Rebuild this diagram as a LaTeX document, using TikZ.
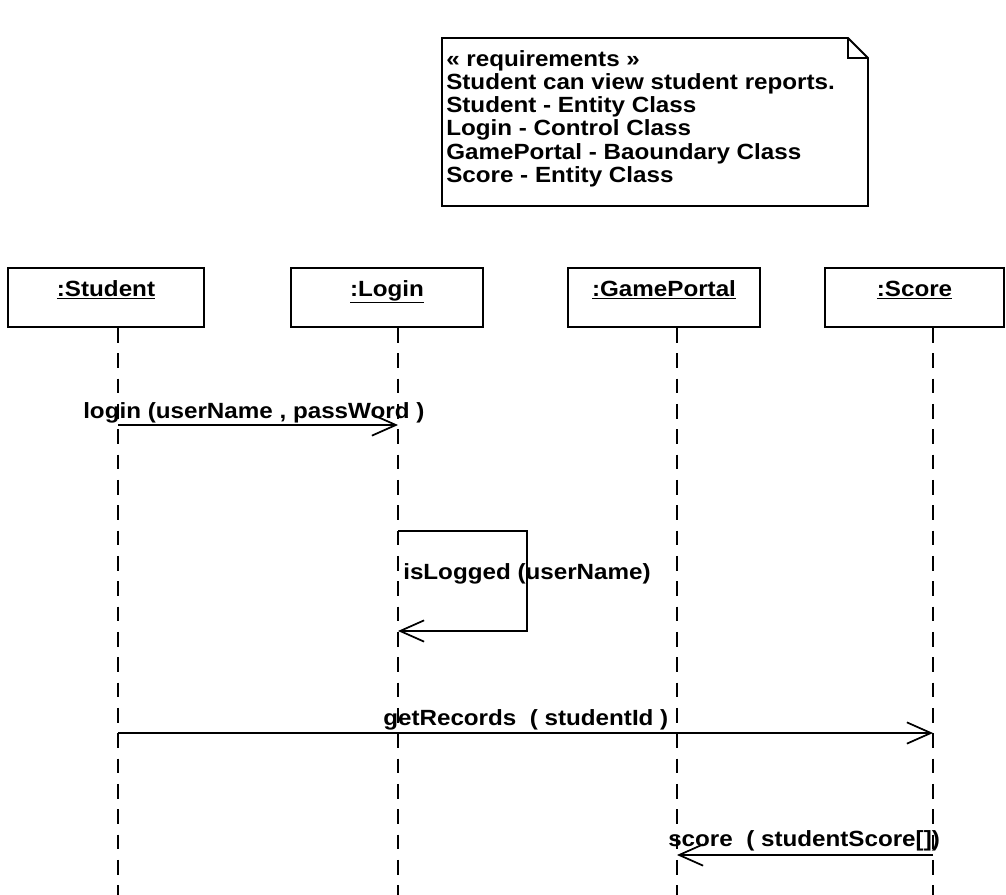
\documentclass[tikz,border=0pt]{standalone}
\usepackage{fontspec}
\setmainfont{Liberation Sans}[FakeStretch=1.1]
\usetikzlibrary{arrows.meta}

\begin{document}
\begin{tikzpicture}[x=0.75pt, y=-0.75pt,
		txt/.style = {font=\bfseries\fontsize{16.5}{17.4}\selectfont},
		obj/.style = {draw, txt, line width=1.4pt, inner sep=0pt, text height=21pt, text depth=23.25pt},
		lifeline/.style = {line width=1.6pt, dash pattern=on 11pt off 8pt},
		msg/.style = {line width=1.3pt, -{Straight Barb[length=18pt, width=16pt, line width=1.3pt]}},
		lbl/.style = {txt, inner sep=0pt, anchor=base west}]
			\useasboundingbox (0,0) rectangle (1006,895);
			\coordinate (nw) at (442,38);
			\coordinate (ne) at (848,38);
			\coordinate (fold) at (868,58);
			\coordinate (se) at (868,206);
			\draw[line width=1.4pt] (nw) -- (ne) -- (fold) -- (se) -- (nw |- se) -- cycle;
			\draw[line width=1.4pt] (ne) -- (ne |- fold) -- (fold);
			\node[txt, inner sep=0pt, anchor=north west, align=left] (req) at (446,50) {« requirements »\\Student can view student reports.\\Student - Entity Class\\Login - Control Class\\GamePortal - Baoundary Class\\Score - Entity Class};
			\node[obj, minimum width=147pt] (student) at (106,297.5) {\underline{:Student}};
			\node[obj, minimum width=144pt] (login) at (387,297.5) {\underline{:Login}};
			\node[obj, minimum width=144pt] (portal) at (664,297.5) {\underline{:GamePortal}};
			\node[obj, minimum width=134pt] (score) at (914.5,297.5) {\underline{:Score}};
			\coordinate (sL) at (118,895);
			\coordinate (lL) at (398,895);
			\coordinate (pL) at (677,895);
			\coordinate (cL) at (933,895);
			\draw[lifeline] (student.south -| sL) -- (sL);
			\draw[lifeline] (login.south -| lL) -- (lL);
			\draw[lifeline] (portal.south -| pL) -- (pL);
			\draw[lifeline] (score.south -| cL) -- (cL);
			\coordinate (m1) at (0,425);
			\coordinate (m2) at (0,531);
			\coordinate (m3) at (0,631);
			\coordinate (m4) at (0,733);
			\coordinate (m5) at (0,855);
			\coordinate (loop) at (527,0);
			\draw[msg] (sL |- m1) -- (lL |- m1);
			\draw[msg] (lL |- m2) -- (loop |- m2) -- (loop |- m3) -- (lL |- m3);
			\draw[msg] (sL |- m4) -- (cL |- m4);
			\draw[msg] (cL |- m5) -- (pL |- m5);
			\node[lbl] (l1) at (83,418) {login (userName , passWord )};
			\node[lbl] (l2) at (403,579) {isLogged (userName)};
			\node[lbl] (l3) at (383,725) {getRecords\ \ ( studentId )};
			\node[lbl] (l4) at (668,846) {score\ \ ( studentScore[])};
		\end{tikzpicture}
\end{document}
